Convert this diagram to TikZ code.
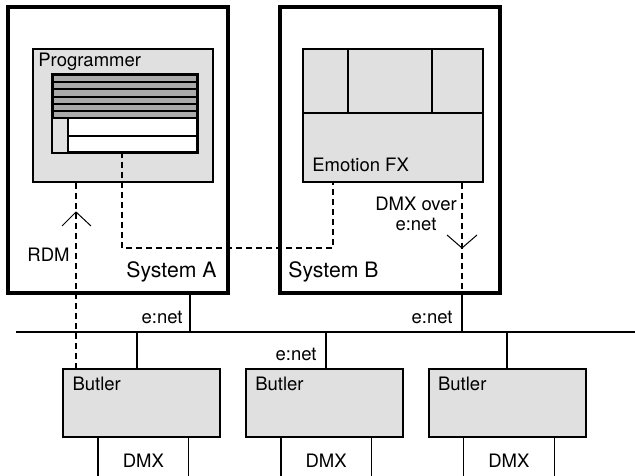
\documentclass[tikz,border=0pt]{standalone}
\usepackage{fontspec}
\setmainfont{TeX Gyre Heros}
\usetikzlibrary{positioning}
\definecolor{boxgray}{RGB}{224,224,224}
\definecolor{screengray}{RGB}{170,170,170}
\tikzset{
  sysbox/.style={draw,line width=2pt,minimum width=110pt,minimum height=143pt,inner sep=0pt},
  devbox/.style={draw,fill=boxgray,line width=0.9pt,minimum width=90pt,minimum height=66.5pt,inner sep=0pt},
  butlerbox/.style={draw,fill=boxgray,line width=0.9pt,minimum width=78.5pt,minimum height=34pt,inner sep=0pt},
  lbl/.style={font=\fontsize{9.25}{10}\selectfont,inner sep=0pt},
  syslbl/.style={font=\fontsize{10.6}{12}\selectfont,inner sep=0pt},
  wire/.style={line width=0.65pt},
  sig/.style={line width=1pt,dash pattern=on 3pt off 2pt},
  tipv/.style={line width=0.5pt},
}
\begin{document}
\begin{tikzpicture}[x=0.5pt,y=-0.5pt,node distance=12pt]
  \useasboundingbox (0,0) rectangle (635,475);
  % systems
  \node[sysbox] (sysA) at (118,150) {};
  \node[sysbox] (sysB) at (390,150) {};
  \node[syslbl,anchor=base west] (sysAlbl) at (126,278) {System A};
  \node[syslbl,anchor=base west] (sysBlbl) at (288,278) {System B};
  % consoles
  \node[devbox] (prog) at (123,115.5) {};
  \node[devbox] (fx) at (393,115.5) {};
  \node[lbl,anchor=base west] (proglbl) at (38,67) {Programmer};
  \node[lbl,anchor=base west] (fxlbl) at (312,172) {Emotion FX};
  % programmer screen
  \node[draw,fill=white,line width=1pt,minimum width=72pt,minimum height=38.5pt,inner sep=0pt] (scr) at (125,113.5) {};
  \fill[boxgray] (53,118) rectangle (68,152);
  \draw[wire] (68,118) -- (68,152);
  \draw[wire] (68,136) -- (197,136);
  \draw[line width=1.3pt,fill=screengray] (53,75) rectangle (197,118);
  \foreach \y in {82,89,97,104,111}
    \draw[wire] (53,\y) -- (197,\y);
  \draw[line width=1pt] (scr.south west) rectangle (scr.north east);
  % emotion fx panels
  \draw[wire] (fx.west |- 0,113) -- (fx.east |- 0,113);
  \draw[wire] (348,49) -- (348,113);
  \draw[wire] (432,49) -- (432,113);
  % butlers
  \node[butlerbox] (b1) at (141.5,403) {};
  \node[butlerbox,right=of b1] (b2) {};
  \node[butlerbox,right=of b2] (b3) {};
  \foreach \b in {b1,b2,b3} {
    \node[lbl,anchor=base west] (\b-lbl) at ([xshift=5pt,yshift=-11pt]\b.north west) {Butler};
    \draw[wire] ([xshift=18pt]\b.south west) -- ++(0,40);
    \draw[wire] ([xshift=63.25pt]\b.south west) -- ++(0,40);
    \node[lbl,anchor=base] (\b-dmx) at ([xshift=40.6pt,yshift=-15pt]\b.south west) {DMX};
  }
  % e:net bus
  \coordinate (busW) at (16,332);
  \coordinate (busE) at (635,332);
  \draw[wire] (busW) -- (busE);
  \coordinate (tapA) at (190,332);
  \coordinate (tap1) at (137,332);
  \coordinate (tap2) at (326,332);
  \coordinate (tap3) at (507,332);
  \draw[wire] (tapA) -- (tapA |- sysA.south);
  \foreach \t/\b in {tap1/b1,tap2/b2,tap3/b3}
    \draw[wire] (\t) -- (\t |- \b.north);
  \node[lbl,anchor=base east] (enetA) at (183,323) {e:net};
  \node[lbl,anchor=base east] (enetB) at (453,323) {e:net};
  \node[lbl,anchor=base east] (enet2) at (317,360) {e:net};
  % RDM
  \coordinate (rdmtip) at (76,212);
  \draw[sig] (prog.south -| rdmtip) -- (b1.north -| rdmtip);
  \draw[tipv] (rdmtip) ++(-14,14) -- (rdmtip) -- ++(15,14);
  \node[lbl,anchor=base west] (rdmlbl) at (27,262) {RDM};
  % programmer to emotion fx
  \coordinate (progout) at (122,152);
  \coordinate (fxin) at (333,182);
  \draw[sig] (progout) -- ++(0,96) -| (fxin);
  % DMX over e:net
  \coordinate (dmxtip) at (462,248);
  \draw[sig] (fx.south -| dmxtip) -- (sysB.south -| dmxtip);
  \draw[wire] (sysB.south -| dmxtip) -- (busW -| dmxtip);
  \draw[tipv] (dmxtip) ++(-15,-13) -- (dmxtip) -- ++(15,-13);
  \node[lbl,align=center,anchor=north] (dmxlbl) at (416,197) {DMX over\\e:net};
\end{tikzpicture}
\end{document}
